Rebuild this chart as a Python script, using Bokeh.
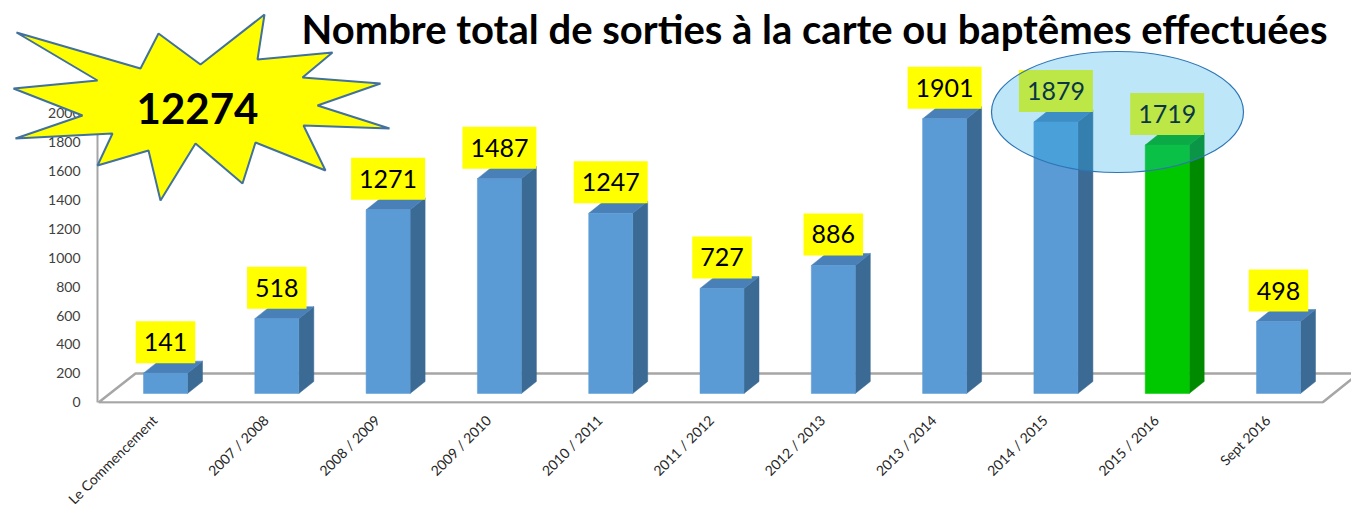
import math
from bokeh.plotting import figure
from bokeh.models import Range1d, LinearAxis, FixedTicker, ColumnDataSource
from bokeh.core.properties import value
from bokeh.embed import file_html
from bokeh.resources import INLINE

# ---------------- data ----------------
categories = ["Le Commencement", "2007 / 2008", "2008 / 2009", "2009 / 2010",
              "2010 / 2011", "2011 / 2012", "2012 / 2013", "2013 / 2014",
              "2014 / 2015", "2015 / 2016", "Sept 2016"]
values = [141, 518, 1271, 1487, 1247, 727, 886, 1901, 1879, 1719, 498]
highlight = [False, False, False, False, False, False, False, False, False, True, False]
y_ticks = [0, 200, 400, 600, 800, 1000, 1200, 1400, 1600, 1800, 2000]
title_text = "Nombre total de sorties à la carte ou baptêmes effectuées"
total = sum(values)

# ---------------- geometry (canvas pixels) ----------------
W = 1351
PX_X = 111.3        # px per category
PX_Y = 0.1445       # px per unit
X0 = 165            # canvas x of category 0 (front face centre)
Y0 = 393            # canvas y of value 0 (front face bottom)
LEFT = 97
FRAME_BOTTOM = 403

def dx(px):
    return (px - X0) / PX_X

def dy(py):
    return (Y0 - py) / PX_Y

x_start, x_end = dx(LEFT), dx(W)
y_start, y_end = dy(FRAME_BOTTOM), dy(0)

p = figure(frame_width=W - LEFT, frame_height=FRAME_BOTTOM,
           x_range=Range1d(x_start, x_end),
           y_range=Range1d(y_start, y_end), output_backend="svg",
           toolbar_location=None, x_axis_type=None, y_axis_type=None,
           min_border_left=LEFT, min_border_right=0, min_border_top=0,
           min_border_bottom=0, outline_line_color=None,
           background_fill_color="white", border_fill_color="white")

# value axis (labels sit on the back wall: a few px below the bar base)
yax_shift = 8.7 / PX_Y
p.extra_y_ranges = {"yax": Range1d(y_start + yax_shift, y_end + yax_shift)}
yaxis = LinearAxis(y_range_name="yax", ticker=FixedTicker(ticks=y_ticks),
                   bounds=(-2, 2000))
yaxis.axis_line_color = "#A6A6A6"
yaxis.axis_line_width = 2
yaxis.major_tick_line_color = None
yaxis.minor_tick_line_color = None
yaxis.major_label_text_font = "Lato"
yaxis.major_label_text_font_size = "14px"
yaxis.major_label_text_color = "#404040"
yaxis.major_label_standoff = 11
p.add_layout(yaxis, "left")

# category axis (rotated labels, a little left of the bar centres)
cat_shift = 11 / PX_X
p.extra_x_ranges = {"xcat": Range1d(x_start + cat_shift, x_end + cat_shift)}
xaxis = LinearAxis(x_range_name="xcat",
                   ticker=FixedTicker(ticks=list(range(len(categories)))))
xaxis.major_label_overrides = {i: c for i, c in enumerate(categories)}
xaxis.major_label_orientation = math.pi / 4
xaxis.axis_line_color = None
xaxis.major_tick_line_color = None
xaxis.minor_tick_line_color = None
xaxis.major_label_text_font = "Lato"
xaxis.major_label_text_font_size = "14px"
xaxis.major_label_text_color = "#262626"
xaxis.major_label_standoff = 8
p.add_layout(xaxis, "below")

# 3D floor
floor_xs = [dx(98), dx(1322), dx(1358), dx(135), dx(98)]
floor_ys = [dy(402), dy(402), dy(373), dy(373), dy(402)]
p.line(floor_xs, floor_ys, line_color="#A6A6A6", line_width=2.5)

# 3D bars
hw = 22 / PX_X
ddx = 15 / PX_X
ddy = 12 / PX_Y
xs = list(range(len(values)))
front = ["#00C800" if h else "#5B9BD5" for h in highlight]
side = ["#008A00" if h else "#3B6A94" for h in highlight]
top = ["#00A800" if h else "#4A80B8" for h in highlight]

src = ColumnDataSource(dict(x=xs, v=values, l=[x - hw for x in xs], r=[x + hw for x in xs],
                            lab=[str(v) for v in values], front=front))
side_xs = [[x + hw, x + hw + ddx, x + hw + ddx, x + hw] for x in xs]
side_ys = [[0, ddy, v + ddy, v] for v in values]
top_xs = [[x - hw, x - hw + ddx, x + hw + ddx, x + hw] for x in xs]
top_ys = [[v, v + ddy, v + ddy, v] for v in values]
p.patches(side_xs, side_ys, fill_color=side, line_color=side, line_width=0.5)
p.patches(top_xs, top_ys, fill_color=top, line_color=top, line_width=0.5)
p.quad(left="l", right="r", bottom=0, top="v", fill_color="front",
       line_color="front", line_width=0.5, source=src)

# value labels on yellow boxes
p.text(x="x", y="v", text="lab", source=src, text_align="center",
       text_baseline="bottom", y_offset=-10, text_font=value("Lato"),
       text_font_size="25px", text_color="black",
       background_fill_color="#FFFF00",
       padding=dict(left=8, right=8, top=12, bottom=12))

# highlight ellipse over the last two seasons
p.ellipse(x=[dx(1117)], y=[dy(111.5)], width=252, height=121, width_units="screen",
          height_units="screen", fill_color="#26AFE7", fill_alpha=0.3,
          line_color="#2E75B6", line_width=1.2)

# title
p.text(x=[dx(814)], y=[dy(28)], text=[title_text], text_align="center",
       text_baseline="middle", text_font=value("Lato"), text_font_style="bold",
       text_font_size="40px", text_color="black")

# burst star with the total
star_px = [(16, 32), (140, 68), (158, 33), (200, 64), (264, 14), (257, 59),
           (332, 52), (302, 77), (380, 83), (317, 105), (389, 128), (303, 125),
           (325, 170), (255, 142), (242, 183), (195, 143), (160, 200), (148, 150),
           (97, 165), (112, 133), (15, 138), (82, 115), (13, 88), (97, 80)]
p.patch([dx(a) for a, b in star_px], [dy(b) for a, b in star_px],
        fill_color="#FFFF00", line_color="#41719C", line_width=2, level="overlay")
p.text(x=[dx(197)], y=[dy(108)], text=[str(total)], text_align="center",
       text_baseline="middle", text_font=value("Lato"), text_font_style="bold",
       text_font_size="42px", text_color="black", level="overlay")

open("out.html", "w").write(file_html(p, INLINE))
